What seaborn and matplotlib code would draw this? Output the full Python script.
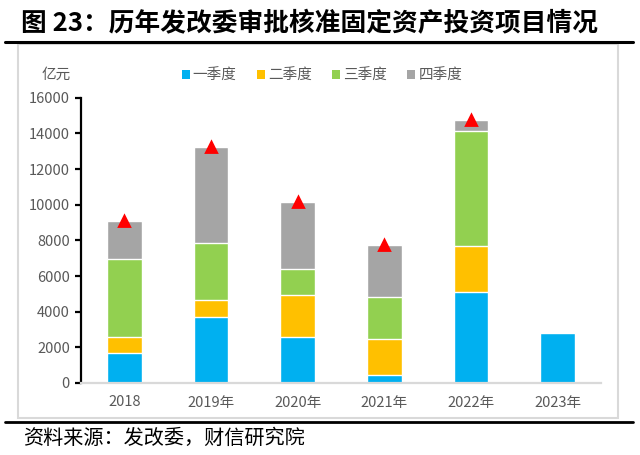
import numpy as np
import pandas as pd
import matplotlib
matplotlib.use("Agg")
import matplotlib.pyplot as plt
from matplotlib.patches import Rectangle, Patch
from matplotlib.lines import Line2D
import seaborn as sns

# ---- data (亿元) ----
years = ["2018", "2019年", "2020年", "2021年", "2022年", "2023年"]
q1 = [1660, 3675, 2590, 430, 5110, 2780]
q2 = [930, 1005, 2330, 2015, 2555, np.nan]
q3 = [4365, 3170, 1460, 2350, 6450, np.nan]
q4 = [2105, 5410, 3785, 2925, 655, np.nan]
series_names = ["一季度", "二季度", "三季度", "四季度"]
colors = ["#00B0F0", "#FFC000", "#92D050", "#A5A5A5"]
y_ticks = [0, 2000, 4000, 6000, 8000, 10000, 12000, 14000, 16000]

sns.set_theme(style="white")
plt.rcParams["font.family"] = ["Noto Sans CJK SC", "DejaVu Sans"]

df = pd.DataFrame({"year": years, "一季度": q1, "二季度": q2, "三季度": q3, "四季度": q4})
cum = df[series_names].cumsum(axis=1, skipna=False)
cum["year"] = df["year"]

fig = plt.figure(figsize=(6.4, 4.55), dpi=100)
W, H = 640, 455
ax = fig.add_axes([81 / W, 1 - 383 / H, (601 - 81) / W, (383 - 97.7) / H])

# stacked bars: draw cumulative heights from top layer down
for name, col in reversed(list(zip(series_names, colors))):
    sub = cum[["year", name]].dropna()
    sns.barplot(data=sub, x="year", y=name, order=years, color=col,
                width=0.40, saturation=1, ax=ax, errorbar=None, zorder=2)

# red triangles at yearly totals (full years)
tot = df[series_names].sum(axis=1, min_count=4)
tri = pd.DataFrame({"year": years, "total": tot}).dropna()
sns.pointplot(data=tri, x="year", y="total", order=years, linestyle="none",
              markers="^", color="#FF0000", markersize=7, ax=ax,
              errorbar=None, zorder=5)

ax.set_xlim(-0.5, 5.5)
ax.set_ylim(0, 16000)
ax.set_yticks(y_ticks)
ax.set_yticklabels([str(v) for v in y_ticks])
ax.set_xlabel("")
ax.set_ylabel("")
for s in ["top", "right"]:
    ax.spines[s].set_visible(False)
ax.spines["left"].set_color("black")
ax.spines["left"].set_linewidth(1.6)
ax.spines["bottom"].set_color("#D9D9D9")
ax.spines["bottom"].set_linewidth(1.6)
ax.tick_params(axis="y", direction="out", length=4, width=1.6, color="black",
               labelsize=10.5, labelcolor="#595959", pad=4, left=True)
ax.tick_params(axis="x", length=0, labelsize=10.5, labelcolor="#595959", pad=9)
ax.grid(False)

# legend
handles = [Patch(facecolor=c, edgecolor="none", label=n) for n, c in zip(series_names, colors)]
fig.legend(handles=handles, loc="center", bbox_to_anchor=(322 / W, 1 - 76 / H), ncol=4,
           frameon=False, fontsize=10.5, labelcolor="#595959", handlelength=0.55,
           handleheight=0.55, handletextpad=0.2, columnspacing=1.4)

# unit label
fig.text(56 / W, 1 - 75 / H, "亿元", ha="center", va="center", fontsize=10.5, color="#595959")

# chart frame
fig.patches.append(Rectangle((18 / W, 1 - 418 / H), (618 - 18) / W, (418 - 44) / H,
                             transform=fig.transFigure, facecolor="none",
                             edgecolor="#D9D9D9", linewidth=1.5, zorder=0))
# title and rules
fig.text(21 / W, 1 - 24 / H, "图 23：历年发改委审批核准固定资产投资项目情况", ha="left", va="center",
         fontsize=18.5, fontweight="bold", color="black")
fig.add_artist(Line2D([5 / W, 633 / W], [1 - 41.5 / H, 1 - 41.5 / H], color="black", linewidth=2.2,
                      transform=fig.transFigure))
fig.add_artist(Line2D([5 / W, 633 / W], [1 - 421.7 / H, 1 - 421.7 / H], color="black", linewidth=2.0,
                      transform=fig.transFigure))
fig.text(23 / W, 1 - 438 / H, "资料来源：发改委，财信研究院", ha="left", va="center",
         fontsize=14.5, fontstyle="italic", color="black")

fig.savefig("out.png", dpi=100)
